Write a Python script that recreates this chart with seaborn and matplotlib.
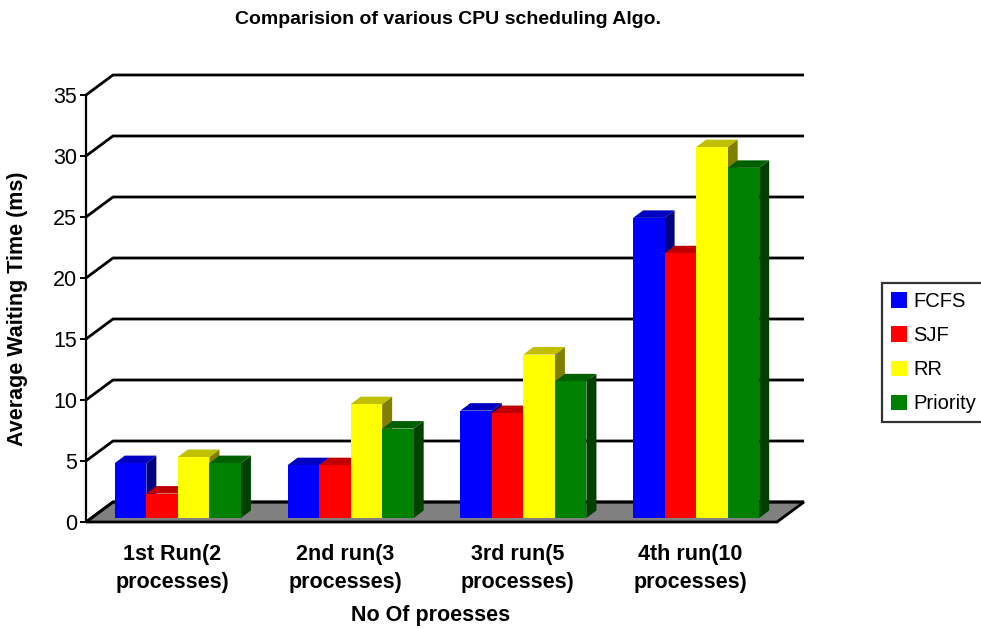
import numpy as np
import pandas as pd
import matplotlib
matplotlib.use("Agg")
import matplotlib.pyplot as plt
import matplotlib.colors as mcolors
from matplotlib.patches import Polygon, Patch
import seaborn as sns

# ---- data ----
runs = ["1st Run(2\nprocesses)", "2nd run(3\nprocesses)",
        "3rd run(5\nprocesses)", "4th run(10\nprocesses)"]
algos = ["FCFS", "SJF", "RR", "Priority"]
fcfs = [4.5, 4.33, 8.8, 24.6]
sjf = [2.0, 4.33, 8.6, 21.7]
rr = [5.0, 9.33, 13.4, 30.4]
priority = [4.5, 7.33, 11.2, 28.7]
yticks = [0, 5, 10, 15, 20, 25, 30, 35]

front_colors = ["#0000FF", "#FF0000", "#FFFF00", "#008000"]
top_colors = ["#0000C0", "#C00000", "#C0C000", "#006000"]
side_colors = ["#000080", "#800000", "#808000", "#004000"]

sns.set_theme(style="white")
plt.rcParams["font.family"] = ["Liberation Sans", "DejaVu Sans"]
plt.rcParams["text.color"] = "black"
plt.rcParams["xtick.color"] = "black"
plt.rcParams["ytick.color"] = "black"
plt.rcParams["axes.labelcolor"] = "black"

W, H = 981, 629
fig = plt.figure(figsize=(W / 100, H / 100), dpi=100)
ax = fig.add_axes([86 / W, (H - 522) / H, 691 / W, 427 / H])

df = pd.DataFrame({
    "run": runs * 4,
    "algo": np.repeat(algos, len(runs)),
    "value": fcfs + sjf + rr + priority,
})

sns.barplot(data=df, x="run", y="value", hue="algo", order=runs,
            hue_order=algos, palette=front_colors, width=0.73,
            saturation=1, errorbar=None, legend=False, linewidth=0, ax=ax)

ax.set_xlim(-0.5, 3.5)
ax.set_ylim(0, 35)

# pixel -> data conversion
p0 = ax.transData.transform((0, 0))
p1 = ax.transData.transform((1, 1))
ppx = p1[0] - p0[0]
ppy = p1[1] - p0[1]


def off(dx_px, dy_px):
    return dx_px / ppx, dy_px / ppy


wx, wy = off(27, 20)     # back wall depth
fx, fy = off(5.5, 4)     # bar front plane
bx, by = off(15.5, 11.5)  # bar back plane

# floor
floor = Polygon([(-0.5, 0), (3.5, 0), (3.5 + wx, wy), (-0.5 + wx, wy)],
                closed=True, facecolor="#808080", edgecolor="black",
                linewidth=2, zorder=1, clip_on=False)
ax.add_patch(floor)

# back wall gridlines
for v in yticks:
    ax.plot([-0.5, -0.5 + wx, 3.5 + wx], [v, v + wy, v + wy], color="black",
            linewidth=2, zorder=2, clip_on=False, solid_capstyle="butt")

# 3D bars
bars = sorted([p for p in ax.patches if p is not floor], key=lambda p: p.get_x())
for k, p in enumerate(bars):
    hexc = mcolors.to_hex(p.get_facecolor()).upper()
    ci = [c.upper() for c in front_colors].index(hexc)
    x0, w, h = p.get_x(), p.get_width(), p.get_height()
    base = 3 + 3 * k
    side = Polygon([(x0 + w + fx, fy), (x0 + w + fx, h + fy),
                    (x0 + w + bx, h + by), (x0 + w + bx, by)],
                   closed=True, facecolor=side_colors[ci], edgecolor="none",
                   zorder=base, clip_on=False)
    top = Polygon([(x0 + fx, h + fy), (x0 + w + fx, h + fy),
                   (x0 + w + bx, h + by), (x0 + bx, h + by)],
                  closed=True, facecolor=top_colors[ci], edgecolor="none",
                  zorder=base + 1, clip_on=False)
    ax.add_patch(side)
    ax.add_patch(top)
    p.set_x(x0 + fx)
    p.set_y(fy)
    p.set_zorder(base + 2)
    p.set_clip_on(False)

# axes styling
for s in ["top", "right", "bottom"]:
    ax.spines[s].set_visible(False)
ax.spines["left"].set_color("black")
ax.spines["left"].set_linewidth(1.6)
ax.spines["left"].set_zorder(50)
ax.set_yticks(yticks)
ax.set_yticklabels([str(v) for v in yticks])
ax.tick_params(axis="y", direction="out", length=4.5, width=1.4,
               color="black", labelcolor="black", labelsize=15.5, pad=2,
               left=True)
ax.tick_params(axis="x", length=0, labelsize=15.5, pad=16,
               labelcolor="black")
for lbl in ax.get_xticklabels():
    lbl.set_fontweight("bold")
    lbl.set_linespacing(1.45)
ax.set_xlabel("")
ax.set_ylabel("")
ax.patch.set_alpha(0)

fig.text(448 / W, 1 - 19 / H, "Comparision of various CPU scheduling Algo.",
         ha="center", va="center", fontsize=14, fontweight="bold",
         color="black")
fig.text(431 / W, 1 - 616 / H, "No Of proesses", ha="center", va="center",
         fontsize=15.5, fontweight="bold", color="black")
fig.text(18 / W, 1 - 309 / H, "Average Waiting Time (ms)", ha="center",
         va="center", rotation=90, fontsize=15.5, fontweight="bold",
         color="black")

handles = [Patch(facecolor=c, edgecolor="none") for c in front_colors]
leg = fig.legend(handles, algos, loc="upper left",
                 bbox_to_anchor=(882 / W, 1 - 283 / H), frameon=True,
                 fancybox=False, edgecolor="black", fontsize=14.5,
                 handlelength=0.8, handleheight=0.8, handletextpad=0.3,
                 labelspacing=0.75, borderpad=0.45, borderaxespad=0)
leg.get_frame().set_linewidth(1.6)
for t in leg.get_texts():
    t.set_color("black")

fig.savefig("out.png", dpi=100)
